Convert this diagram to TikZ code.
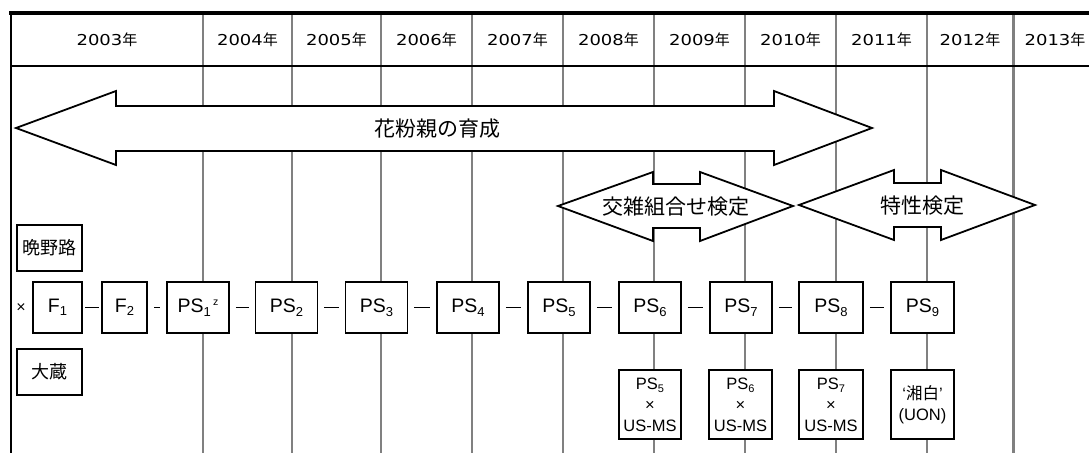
\documentclass[tikz,border=0pt]{standalone}
\usepackage{fontspec}
\setmainfont{Liberation Sans}
\newfontfamily\jp{Noto Sans CJK JP}
\newfontfamily\djv{DejaVu Sans}
\definecolor{gl}{HTML}{808080}
\newcommand\lsub[1]{\raisebox{-3.5pt}{\fontsize{13}{13}\selectfont #1}}
\newcommand\ssub[1]{\raisebox{-3pt}{\fontsize{11}{11}\selectfont #1}}
\newcommand\yeartext[1]{\scalebox{1.2}[1]{\djv\fontsize{15}{15}\selectfont #1}{\jp\fontsize{15}{15}\selectfont 年}}
\begin{document}
\begin{tikzpicture}[x=1pt,y=-1pt,
  gline/.style={draw=gl,line width=1.5pt},
  yr/.style={inner sep=0pt},
  box/.style={draw,line width=1.8pt,fill=white,inner sep=0pt,minimum height=51pt,minimum width=62pt,font=\fontsize{19.5}{20}\selectfont},
  jbox/.style={draw,line width=1.8pt,fill=white,inner sep=0pt,minimum height=46pt,minimum width=65pt,font=\jp\fontsize{18}{18}\selectfont},
  bbox/.style={draw,line width=1.8pt,fill=white,inner sep=0pt,minimum height=69pt,minimum width=62pt,align=center,font=\fontsize{16.5}{21}\selectfont},
  link/.style={line width=1.3pt,shorten <=6pt,shorten >=6pt},
  arr/.style={draw,line width=1.8pt,fill=white,line join=miter},
  alabel/.style={font=\jp\fontsize{21}{21}\selectfont,inner sep=0pt}]
\useasboundingbox (0,0) rectangle (1089,453);
% grid
\foreach \x in {203,292,381,472,563,654,745,836,927}
  \draw[gline] (\x,13) -- (\x,453);
\draw[gline,line width=3pt] (1013,13) -- (1013,453);
\draw[line width=4pt] (9,13) -- (1089,13);
\draw[line width=2pt] (11,13) -- (11,453);
\draw[line width=2pt] (11,66) -- (1089,66);
% years
\node[yr] (y03) at (107,40) {\yeartext{2003}};
\node[yr] (y04) at (247.5,40) {\yeartext{2004}};
\node[yr] (y05) at (336.5,40) {\yeartext{2005}};
\node[yr] (y06) at (426.5,40) {\yeartext{2006}};
\node[yr] (y07) at (517.5,40) {\yeartext{2007}};
\node[yr] (y08) at (608.5,40) {\yeartext{2008}};
\node[yr] (y09) at (699.5,40) {\yeartext{2009}};
\node[yr] (y10) at (790.5,40) {\yeartext{2010}};
\node[yr] (y11) at (881.5,40) {\yeartext{2011}};
\node[yr] (y12) at (970,40) {\yeartext{2012}};
\node[yr] (y13) at (1055,40) {\yeartext{2013}};
% arrows
\draw[arr] (16,128) -- (116,91) -- (116,106) -- (774,106) -- (774,91) -- (872,128)
  -- (774,165) -- (774,151) -- (116,151) -- (116,165) -- cycle;
\node[alabel] (a1) at (437,129) {花粉親の育成};
\draw[arr] (558,206) -- (653,172) -- (653,184) -- (700,184) -- (700,172) -- (793,206)
  -- (700,241) -- (700,228) -- (653,228) -- (653,241) -- cycle;
\node[alabel] (a2) at (675.5,207) {交雑組合せ検定};
\draw[arr] (799,205) -- (894,170) -- (894,183) -- (941,183) -- (941,170) -- (1035,205)
  -- (941,240) -- (941,227) -- (894,227) -- (894,240) -- cycle;
\node[alabel] (a3) at (922,206) {特性検定};
% parents
\node[jbox] (ban) at (49.5,248) {晩野路};
\node[jbox] (ook) at (49.5,372) {大蔵};
\node[font=\fontsize{16}{16}\selectfont,inner sep=0pt] (x) at (21,308) {×};
% lineage
\node[box,minimum width=49pt] (F1) at (57.5,307.5) {F\lsub{1}};
\node[box,minimum width=45pt] (F2) at (124.5,307.5) {F\lsub{2}};
\node[box] (P1) at (198,307.5) {PS\lsub{1}\raisebox{7pt}{\fontsize{10.5}{10.5}\selectfont\hspace{2.5pt}z}};
\node[box] (P2) at (286.5,307.5) {PS\lsub{2}};
\node[box] (P3) at (376.5,307.5) {PS\lsub{3}};
\node[box] (P4) at (468,307.5) {PS\lsub{4}};
\node[box] (P5) at (559,307.5) {PS\lsub{5}};
\node[box] (P6) at (650,307.5) {PS\lsub{6}};
\node[box] (P7) at (741,307.5) {PS\lsub{7}};
\node[box,minimum width=64pt] (P8) at (831,307.5) {PS\lsub{8}};
\node[box,minimum width=63pt] (P9) at (922.5,307.5) {PS\lsub{9}};
\draw[link,shorten <=2.5pt,shorten >=2.5pt] (F1) -- (F2);
\draw[link,shorten <=6.5pt,shorten >=6.5pt] (F2) -- (P1);
\draw[link] (P1) -- (P2);
\draw[link] (P2) -- (P3);
\draw[link] (P3) -- (P4);
\draw[link] (P4) -- (P5);
\draw[link] (P5) -- (P6);
\draw[link] (P6) -- (P7);
\draw[link] (P7) -- (P8);
\draw[link] (P8) -- (P9);
% crosses
\node[bbox] (B5) at (650,404.5) {PS\ssub{5}\\×\\US-MS};
\node[bbox,minimum width=63pt] (B6) at (740.5,404.5) {PS\ssub{6}\\×\\US-MS};
\node[bbox,minimum width=64pt] (B7) at (831,404.5) {PS\ssub{7}\\×\\US-MS};
\node[bbox,minimum width=63pt] (B8) at (922.5,404.5) {‘{\jp 湘白}’\\(UON)};
\end{tikzpicture}
\end{document}
